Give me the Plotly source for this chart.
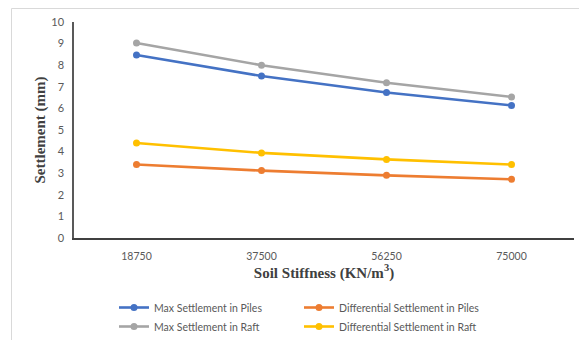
import plotly.graph_objects as go

categories = ["18750", "37500", "56250", "75000"]
max_piles = [8.47, 7.5, 6.74, 6.14]
diff_piles = [3.4, 3.12, 2.9, 2.72]
max_raft = [9.03, 8.0, 7.19, 6.53]
diff_raft = [4.4, 3.94, 3.64, 3.4]
y_ticks = list(range(0, 11))

series = [
    ("Max Settlement in Piles", max_piles, "#4472C4"),
    ("Differential Settlement in Piles", diff_piles, "#ED7D31"),
    ("Max Settlement in Raft", max_raft, "#A5A5A5"),
    ("Differential Settlement in Raft", diff_raft, "#FFC000"),
]

fig = go.Figure()
for name, vals, col in series:
    fig.add_trace(go.Scatter(
        x=categories, y=vals, name=name, mode="lines+markers",
        line=dict(color=col, width=2.6),
        marker=dict(color=col, size=7),
    ))

W, H = 579, 340
L, R, T, B = 74, 5, 22, 102
pw, ph = W - L - R, H - T - B

def px(x):
    return (x - L) / pw

def py(y):
    return (H - B - y) / ph

fig.update_layout(
    width=W, height=H,
    margin=dict(l=L, r=R, t=T, b=B, autoexpand=False),
    paper_bgcolor="white", plot_bgcolor="white",
    font=dict(family="Lato, Open Sans, sans-serif", size=11, color="#595959"),
    xaxis=dict(
        type="category", showgrid=False, zeroline=False, automargin=False,
        showline=True, linecolor="#404040", linewidth=1.5,
        ticks="", tickfont=dict(size=10.5, color="#595959"),
        ticklabelstandoff=8,
        range=[-0.5, 3.5],
        title=dict(text="<b>Soil Stiffness (KN/m<sup>3</sup>)</b>",
                   font=dict(family="Liberation Serif", size=15, color="#404040"),
                   standoff=4),
    ),
    yaxis=dict(
        range=[0, 10], tickvals=y_ticks, showgrid=False, zeroline=False,
        automargin=False,
        showline=True, linecolor="#595959", linewidth=1.5,
        ticks="", tickfont=dict(size=11, color="#595959"),
        ticklabelstandoff=6,
        title=dict(text="<b>Settlement (mm)</b>",
                   font=dict(family="Liberation Serif", size=15, color="#404040"),
                   standoff=2),
    ),
    legend=dict(
        orientation="h", xref="container", yref="container",
        x=114 / W, y=1 - 293 / H, xanchor="left", yanchor="top",
        entrywidth=140, entrywidthmode="pixels",
        font=dict(size=10.5, color="#595959"),
        itemwidth=30, tracegroupgap=0,
    ),
    shapes=[
        dict(type="line", xref="paper", yref="paper", x0=px(11.5), x1=px(579),
             y0=py(8.5), y1=py(8.5), line=dict(color="#D9D9D9", width=1)),
        dict(type="line", xref="paper", yref="paper", x0=px(11.5), x1=px(11.5),
             y0=py(8.5), y1=py(340), line=dict(color="#D9D9D9", width=1)),
    ],
)

fig.write_html(
    "out.html",
    config={"displayModeBar": False},
    post_script="document.body.style.margin='0';document.body.style.overflow='hidden';",
)
